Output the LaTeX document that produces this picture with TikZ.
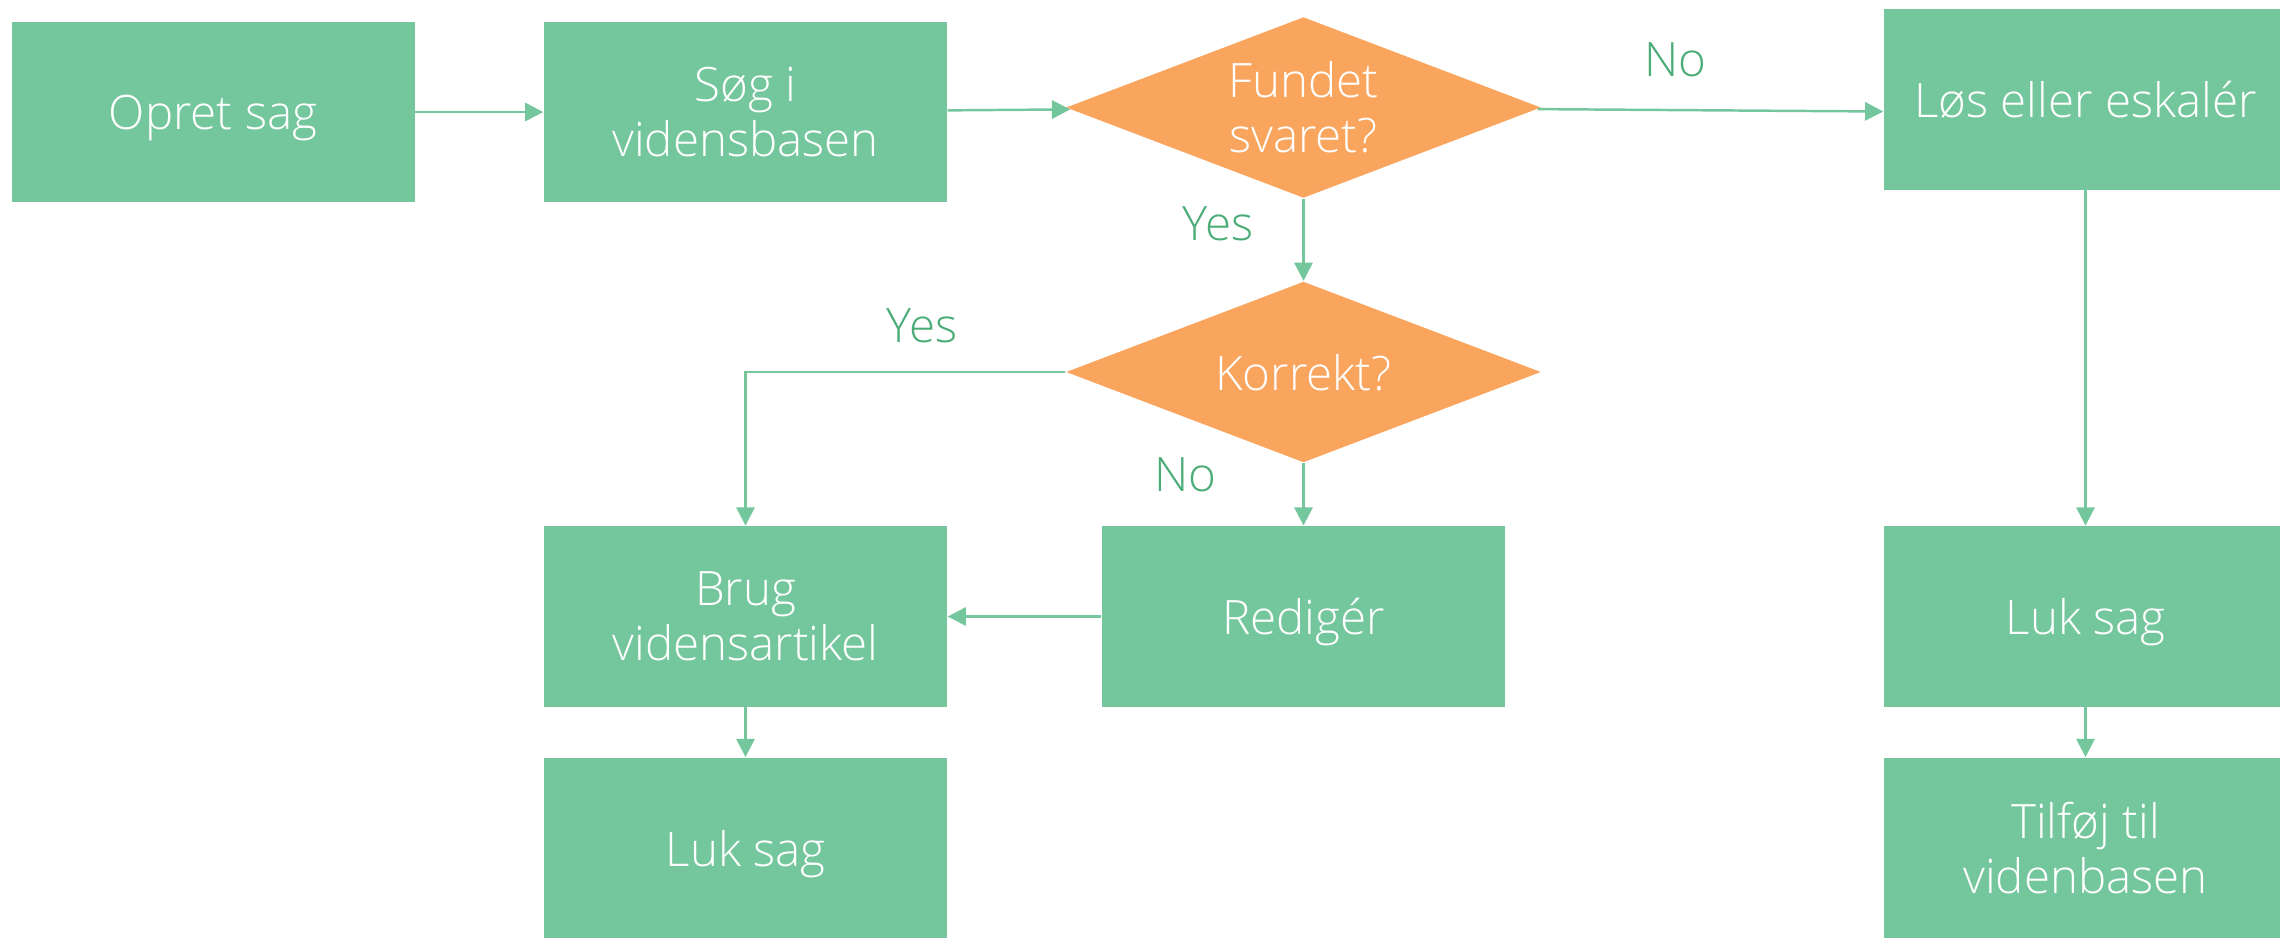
\documentclass[tikz,border=0pt]{standalone}
\usepackage{fontspec}
\setmainfont{Open Sans}[UprightFont={* Light}]
\usetikzlibrary{shapes.geometric, positioning, arrows.meta}
\definecolor{boxgreen}{RGB}{116,198,157}
\definecolor{decorange}{RGB}{249,165,94}
\definecolor{labelgreen}{RGB}{76,172,120}

\begin{document}
\begin{tikzpicture}[node distance = 2cm, on grid, auto,
  every node/.style = {font=\fontsize{13.5}{15.6}\selectfont},
  task/.style = {rectangle, fill=boxgreen, text=white, minimum width=4.03cm,
    minimum height=1.805cm, inner sep=0pt, align=center},
  oneline/.style = {text depth=0pt},
  decision/.style = {diamond, fill=decorange, text=white, shape aspect=2.62,
    minimum width=4.75cm, minimum height=1.81cm, inner sep=0pt, align=center},
  flow/.style = {color=boxgreen, line width=0.7pt, -{Triangle[length=5.2pt, width=5.2pt]}},
  answer/.style = {text=labelgreen}]
  \useasboundingbox (0,0) rectangle (22.8,-9.37);

  \node[task, oneline] (opret) at (2.13,-1.12) {Opret sag};
  \node[task] (soeg) [right=5.325 of opret] {Søg i\\vidensbasen};
  \node[decision] (fundet) at (13.035,-1.075) {Fundet\\svaret?};
  \node[task, oneline] (loes) at (20.855,-0.995) {Løs eller eskalér};
  \node[decision, oneline] (korrekt) [below=2.645 of fundet] {Korrekt?};
  \node[task, oneline] (rediger) [below=2.445 of korrekt] {Redigér};
  \node[task] (brug) [left=5.58 of rediger] {Brug\\vidensartikel};
  \node[task, oneline] (luk) [below=2.315 of brug] {Luk sag};
  \node[task, oneline] (lukr) [below=5.17 of loes] {Luk sag};
  \node[task] (tilfoej) [below=2.315 of lukr] {Tilføj til\\videnbasen};

  % svar
  \node[answer] (no1) at (16.75,-0.6) {No};
  \node[answer] (yes1) at (12.18,-2.24) {Yes};
  \node[answer] (yes2) at (9.22,-3.26) {Yes};
  \node[answer] (no2) at (11.85,-4.75) {No};

  \path[flow]
    (opret) edge (soeg)
    (soeg) edge (fundet)
    (fundet) edge ([yshift=-1.2mm]loes.west)
             edge (korrekt)
    (korrekt) edge (rediger)
    (rediger) edge (brug)
    (brug) edge (luk)
    (loes) edge (lukr)
    (lukr) edge (tilfoej);
  \draw[flow] (korrekt.west) -| (brug.north);
\end{tikzpicture}
\end{document}
